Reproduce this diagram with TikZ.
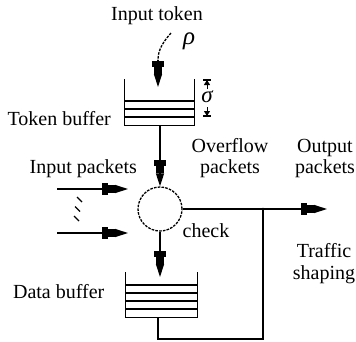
\documentclass[tikz,border=0pt]{standalone}
\usepackage{fontspec}
\setmainfont{Liberation Serif}
\usetikzlibrary{arrows.meta}
\begin{document}
\begin{tikzpicture}[x=1pt,y=-1pt,
  line width=1.3pt,
  lbl/.style={inner sep=0pt,font=\fontsize{20}{24}\selectfont},
  bigarrow/.style={-{Rectangle[length=6pt,width=12pt,sep=0pt]Rectangle[length=7pt,width=8pt,sep=0pt]Triangle[length=13pt,width=8pt]}},
  smalltip/.style={-{Triangle[length=5pt,width=6pt]}},
  dashline/.style={dash pattern=on 2.6pt off 1.2pt},
  bufbox/.style={inner sep=0pt,minimum width=#1,draw=none}
]
\useasboundingbox (0,0) rectangle (356,341);
% texts
\node[lbl,anchor=base] (tInTok) at (157,20) {Input token};
\node[lbl,anchor=base,font=\fontsize{25}{28}\selectfont\itshape] (tRho) at (189,44) {ρ};
\node[lbl,anchor=base west] (tTokBuf) at (7,125) {Token buffer};
\node[lbl,anchor=base west] (tInPk) at (29,173) {Input packets};
\node[lbl,anchor=base] (tOv1) at (230,152) {Overflow};
\node[lbl,anchor=base] (tOv2) at (230,173) {packets};
\node[lbl,anchor=base] (tOut1) at (325,152) {Output};
\node[lbl,anchor=base] (tOut2) at (325,173) {packets};
\node[lbl,anchor=base west] (tChk) at (182,237) {check};
\node[lbl,anchor=base] (tTr1) at (324,257) {Traffic};
\node[lbl,anchor=base] (tTr2) at (324,279) {shaping};
\node[lbl,anchor=base east] (tDat) at (105,298) {Data buffer};
% token buffer
\node[bufbox=69pt,minimum height=45pt] (tokbuf) at (159.5,102.5) {};
\draw (tokbuf.north west) -- (tokbuf.south west) -- (tokbuf.south east) -- (tokbuf.north east);
\foreach \yy in {101,109,117} \draw (125,\yy) -- (194,\yy);
% sigma
\coordinate (sgTop) at (207,80);
\coordinate (sgBot) at (207,116);
\node[lbl,anchor=center,font=\fontsize{23}{26}\selectfont\itshape] (tSig) at (207,97) {σ};
\draw (203,80) -- (211,80);
\draw (203,116) -- (211,116);
\draw[line width=1pt,smalltip] (207,89) -- (sgTop);
\draw[line width=1pt,smalltip] (207,107) -- (sgBot);
% data buffer
\node[bufbox=71pt,minimum height=44pt] (datbuf) at (161.5,295) {};
\draw (datbuf.north west) -- (datbuf.south west) -- (datbuf.south east) -- (datbuf.north east);
\foreach \yy in {285,293,301,309} \draw (126,\yy) -- (197,\yy);
% check circle
\node[circle,draw,dashline,minimum size=44pt,inner sep=0pt] (chk) at (160,209) {};
% input token arrow
\coordinate (tokStart) at (171,33);
\coordinate (tokMid) at (158,60);
\coordinate (tokTip) at (158,87);
\draw[dashline] (tokStart) .. controls (163,42) and (158,50) .. (tokMid);
\draw[bigarrow] (tokMid) -- (tokTip);
% token buffer to check
\draw[bigarrow] (160,125) -- (chk.north);
% input packets
\coordinate (in1s) at (57,189);
\coordinate (in1e) at (128,189);
\coordinate (in2s) at (57,233);
\coordinate (in2e) at (128,233);
\draw[bigarrow] (in1s) -- (in1e);
\draw[bigarrow] (in2s) -- (in2e);
\draw[line width=1.1pt] (77,197) -- (82,202);
\draw[line width=1.1pt] (75,206.5) -- (80,211.5);
\draw[line width=1.1pt] (74,216) -- (79,221);
% check to data buffer
\coordinate (datTip) at (160,277);
\draw[bigarrow] (chk.south) -- (datTip);
% output
\coordinate (outTip) at (327,209);
\coordinate (junc) at (263,209);
\draw[bigarrow] (chk.east) -- (outTip);
\fill (junc) circle (1.4pt);
% loop from data buffer back
\draw (158,317) -- (158,339) -| (junc);
\end{tikzpicture}
\end{document}
